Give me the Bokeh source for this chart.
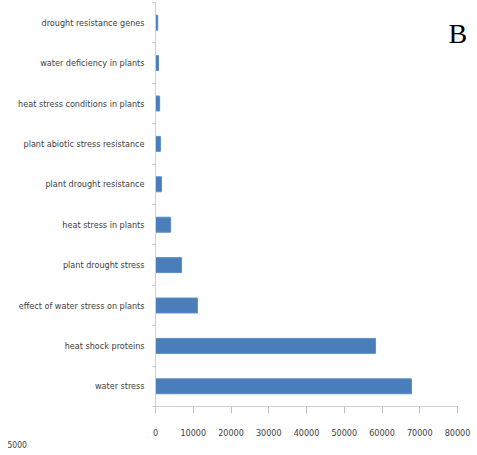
from bokeh.plotting import figure
from bokeh.models import Range1d, FixedTicker, Label, ColumnDataSource, Title
from bokeh.embed import file_html
from bokeh.resources import INLINE

# Data (top-to-bottom as displayed)
categories = [
    "drought resistance genes",
    "water deficiency in plants",
    "heat stress conditions in plants",
    "plant abiotic stress resistance",
    "plant drought resistance",
    "heat stress in plants",
    "plant drought stress",
    "effect of water stress on plants",
    "heat shock proteins",
    "water stress",
]
values = [600, 800, 1100, 1300, 1600, 4000, 6900, 11100, 58300, 67800]
x_ticks = [0, 10000, 20000, 30000, 40000, 50000, 60000, 70000, 80000]

n = len(categories)
ypos = [n - 1 - i for i in range(n)]
src = ColumnDataSource(dict(y=ypos, v=values, cat=categories))

FONT = "'Liberation Sans Narrow', 'DejaVu Sans Condensed', sans-serif"

p = figure(width=477, height=453, output_backend="svg", toolbar_location=None,
           x_range=Range1d(0, 84500), y_range=Range1d(-0.5, 9.5),
           min_border_left=155, min_border_right=3, min_border_top=2,
           min_border_bottom=47, outline_line_color=None)

p.hbar(y="y", right="v", left=0, height=0.37, source=src,
       fill_color="#4a7ebb", line_color="#5b8cc8", line_width=1)

p.grid.visible = False

xa = p.xaxis[0]
xa.ticker = FixedTicker(ticks=x_ticks, minor_ticks=[])
xa.bounds = (0, 80000)
xa.axis_line_color = "#d0d0d0"
xa.major_tick_line_color = "#c0c0c0"
xa.major_tick_out = 7
xa.major_tick_in = 0
xa.minor_tick_out = 0
xa.minor_tick_in = 0
xa.major_label_standoff = 15
xa.major_label_text_font = FONT
xa.major_label_text_font_size = "9px"
xa.major_label_text_color = "#404040"
xa.formatter.use_scientific = False

ya = p.yaxis[0]
ya.ticker = FixedTicker(ticks=ypos, minor_ticks=[i - 0.5 for i in range(n + 1)])
ya.major_label_overrides = {y: c for y, c in zip(ypos, categories)}
ya.axis_line_color = "#d0d0d0"
ya.major_tick_out = 0
ya.major_tick_in = 0
ya.minor_tick_out = 3
ya.minor_tick_in = 0
ya.minor_tick_line_color = "#c0c0c0"
ya.major_label_standoff = 8
ya.major_label_text_font = FONT
ya.major_label_text_font_size = "9px"
ya.major_label_text_color = "#404040"

p.add_layout(Label(x=293, y=373, x_units="screen", y_units="screen", text="B",
                   text_baseline="alphabetic",
                   text_font="'Liberation Serif', 'DejaVu Serif', serif",
                   text_font_size="28px", text_color="#000000"))
p.add_layout(Title(text="5000", align="left", offset=-148, standoff=0,
                   text_font=FONT, text_font_size="8.5px",
                   text_font_style="normal", text_color="#404040"), "below")

open("out.html", "w").write(file_html(p, INLINE))
